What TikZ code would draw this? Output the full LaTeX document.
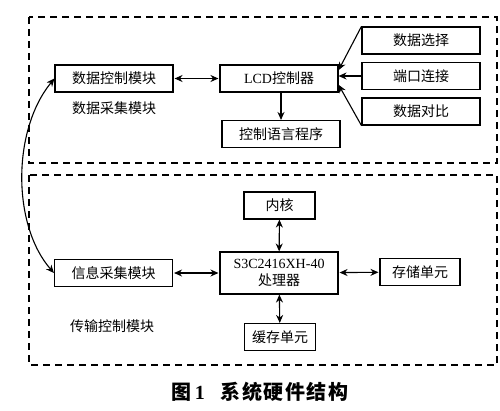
\documentclass[tikz,border=0pt]{standalone}
\usepackage{fontspec}
\setmainfont{Liberation Serif}
\newfontfamily\cjk{Noto Sans CJK SC}
\usetikzlibrary{arrows.meta,positioning}

\begin{document}
\begin{tikzpicture}[x=1pt,y=-1pt,
  box/.style={draw, line width=1.1pt, minimum width=118pt, minimum height=27pt, inner sep=0pt, font=\fontsize{14}{16}\selectfont},
  lbl/.style={font=\fontsize{14}{16}\selectfont},
  frame/.style={line width=1.1pt, dash pattern=on 7pt off 5pt},
  link/.style={line width=1.1pt, -{Stealth[length=8pt,width=7pt]}},
  dlink/.style={line width=1.1pt, {Stealth[length=8pt,width=7pt]}-{Stealth[length=8pt,width=7pt]}}]
\useasboundingbox (0,0) rectangle (500,410);

% dashed frames
\draw[frame] (29,17) rectangle (497,163);
\draw[frame] (29,175) rectangle (497,365);

% upper part
\node[box] (dctl) at (114,78.5) {\cjk 数据控制模块};
\node[box] (lcd) at (279,78.5) {LCD\cjk 控制器};
\node[box] (sel) at (421,40.5) {\cjk 数据选择};
\node[box] (port) at (421,76) {\cjk 端口连接};
\node[box] (cmp) at (421,111.5) {\cjk 数据对比};
\node[box] (prog) at (281,134) {\cjk 控制语言程序};
\node[lbl] (acq) at (114,108) {\cjk 数据采集模块};

% lower part
\node[box, minimum width=71pt] (core) at (279.5,205.5) {\cjk 内核};
\node[box, minimum height=42pt, align=center, font=\fontsize{14}{17}\selectfont] (cpu) at (279,273) {S3C2416XH-40\\\cjk 处理器};
\node[box] (info) at (113.5,273) {\cjk 信息采集模块};
\node[box, minimum width=80pt] (mem) at (420,272) {\cjk 存储单元};
\node[box, minimum width=71pt] (cache) at (280,337) {\cjk 缓存单元};
\node[lbl] (trans) at (112,326) {\cjk 传输控制模块};

\node[font=\fontsize{20}{22}\selectfont\bfseries] (cap) at (260,392)
  {\cjk 图\,{\rmfamily\bfseries 1}\hspace{16pt}系\hspace{1.5pt}统\hspace{1.5pt}硬\hspace{1.5pt}件\hspace{1.5pt}结\hspace{1.5pt}构};

\draw[dlink, shorten <=1pt, shorten >=1pt] (dctl) -- (lcd);
\draw[link] (sel.north west) -- (lcd.8);
\draw[link] (port.west) -- (port.west -| lcd.east);
\draw[link] (cmp.south west) -- (lcd.-6);
\draw[link] (prog.north |- lcd.south) -- (prog.north);

\draw[dlink] (core) -- (cpu);
\draw[dlink] (cpu) -- (cache);
\draw[dlink, shorten <=1pt, shorten >=1pt] (info) -- (cpu);
\draw[dlink, shorten <=1pt, shorten >=1pt] (cpu) -- (mem);

\draw[dlink] (dctl.west) .. controls (12,130) and (12,225) .. (info.west);
\end{tikzpicture}
\end{document}
